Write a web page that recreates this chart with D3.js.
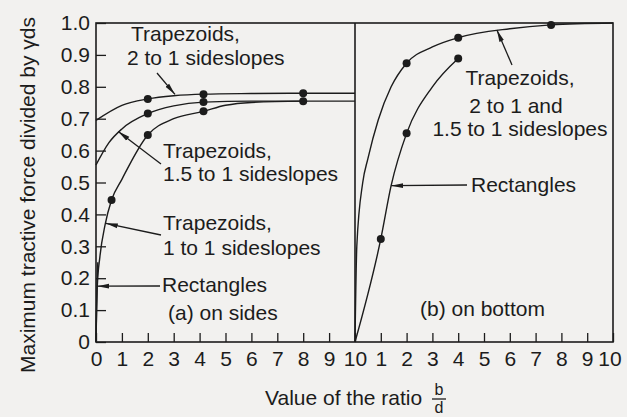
<!DOCTYPE html>
<html>
<head>
<meta charset="utf-8">
<script src="https://cdn.jsdelivr.net/npm/d3@7"></script>
<style>
  html, body { margin: 0; padding: 0; background: #f2f1ef; }
  svg { display: block; font-family: "Liberation Sans", Arial, Helvetica, sans-serif; }
</style>
</head>
<body>
<svg id="chart" width="627" height="417"></svg>
<script>
// ---- Axis ticks ----
const yTickValues = [0, 0.1, 0.2, 0.3, 0.4, 0.5, 0.6, 0.7, 0.8, 0.9, 1.0];
const yTickLabels = ["0", "0.1", "0.2", "0.3", "0.4", "0.5", "0.6", "0.7", "0.8", "0.9", "1.0"];
const xTicksSides = [0, 1, 2, 3, 4, 5, 6, 7, 8, 9, 10];
const xTicksBottom = [1, 2, 3, 4, 5, 6, 7, 8, 9, 10];

// ---- (a) on sides: curves [b/d, tau/(gamma d s)] and measured points ----
const sides2to1Curve = [[0, 0.695], [1, 0.742], [2, 0.762], [3, 0.772], [4.15, 0.777], [6, 0.779], [8, 0.78], [10, 0.78]];
const sides2to1Points = [[2, 0.762], [4.15, 0.777], [8, 0.78]];
const sides15to1Curve = [[0, 0.555], [0.5, 0.625], [1, 0.668], [2, 0.716], [3, 0.74], [4.15, 0.752], [6, 0.755], [8, 0.755], [10, 0.755]];
const sides15to1Points = [[2, 0.716], [4.15, 0.752], [8, 0.755]];
const sides1to1Curve = [[0, 0], [0.05, 0.175], [0.15, 0.267], [0.35, 0.367], [0.6, 0.445], [1, 0.51], [2, 0.649], [3, 0.7], [4.15, 0.723], [5, 0.742], [6, 0.751], [8, 0.755]];
const sides1to1Points = [[0.6, 0.445], [2, 0.649], [4.15, 0.723]];
const sidesRectCurve = [[0, 0], [0.02, 0.1], [0.045, 0.19], [0.07, 0.25]];

// ---- (b) on bottom ----
const bottomTrapCurve = [[0, 0], [0.07, 0.3], [0.3, 0.5], [0.5, 0.575], [0.9, 0.696], [1.4, 0.8], [2, 0.874], [3, 0.925], [4, 0.954], [6, 0.982], [7.6, 0.994], [10, 1.0]];
const bottomTrapPoints = [[2, 0.874], [4, 0.954], [7.6, 0.994]];
const bottomRectCurve = [[0, 0], [1, 0.323], [1.4, 0.49], [2, 0.654], [3, 0.8], [4, 0.889]];
const bottomRectPoints = [[1, 0.323], [2, 0.654], [4, 0.889]];

const ink = "#1c1c1c";
const svg = d3.select("#chart");

const y = d3.scaleLinear().domain([0, 1]).range([342, 23]);
const xA = d3.scaleLinear().domain([0, 10]).range([96, 355]);
const xB = d3.scaleLinear().domain([0, 10]).range([355, 613]);

// arrowhead
svg.append("defs").append("marker")
  .attr("id", "head").attr("viewBox", "0 0 12 6")
  .attr("refX", 12).attr("refY", 3)
  .attr("markerWidth", 12).attr("markerHeight", 6)
  .attr("markerUnits", "userSpaceOnUse")
  .attr("orient", "auto")
  .append("path").attr("d", "M0,0.6 L12,3 L0,5.4 Z").attr("fill", ink);

// frame
const frame = svg.append("g").attr("fill", "none").attr("stroke", ink).attr("stroke-width", 1.6);
frame.append("rect").attr("x", xA(0)).attr("y", y(1)).attr("width", xB(10) - xA(0)).attr("height", y(0) - y(1));
frame.append("line").attr("x1", xA(10)).attr("x2", xA(10)).attr("y1", y(0)).attr("y2", y(1));

function styleAxis(g) {
  g.select(".domain").remove();
  g.selectAll(".tick line").attr("stroke", ink).attr("stroke-width", 1.3);
  g.selectAll(".tick text").attr("fill", ink).attr("font-size", 21).attr("font-family", null);
}

// y axis, ticks pointing inward
svg.append("g").attr("transform", `translate(${xA(0)},0)`)
  .call(d3.axisLeft(y).tickValues(yTickValues).tickSize(-10).tickPadding(6)
    .tickFormat((d, i) => yTickLabels[i]))
  .call(styleAxis);

// x axes for both panels
svg.append("g").attr("transform", `translate(0,${y(0)})`)
  .call(d3.axisBottom(xA).tickValues(xTicksSides).tickSize(-9).tickPadding(9).tickFormat(d3.format("d")))
  .call(styleAxis);
svg.append("g").attr("transform", `translate(0,${y(0)})`)
  .call(d3.axisBottom(xB).tickValues(xTicksBottom).tickSize(-9).tickPadding(9).tickFormat(d3.format("d")))
  .call(g => g.selectAll(".tick").filter(d => d === 10).select("text").remove())
  .call(styleAxis);
// right-hand 10 label
svg.append("text").attr("x", xB(10) - 3).attr("y", y(0) + 24).attr("text-anchor", "middle")
  .attr("font-size", 21).attr("fill", ink).text("10");

// curves
const curveGroup = svg.append("g").attr("fill", "none").attr("stroke", ink).attr("stroke-width", 1.4);
function drawCurve(data, xs) {
  const line = d3.line().x(d => xs(d[0])).y(d => y(d[1])).curve(d3.curveMonotoneX);
  curveGroup.append("path").attr("d", line(data));
}
drawCurve(sides2to1Curve, xA);
drawCurve(sides15to1Curve, xA);
drawCurve(sides1to1Curve, xA);
drawCurve(sidesRectCurve, xA);
drawCurve(bottomTrapCurve, xB);
drawCurve(bottomRectCurve, xB);

// measured points
const dotGroup = svg.append("g").attr("fill", ink);
function drawDots(data, xs) {
  dotGroup.selectAll(null).data(data).enter().append("circle")
    .attr("cx", d => xs(d[0])).attr("cy", d => y(d[1])).attr("r", 4);
}
drawDots(sides2to1Points, xA);
drawDots(sides15to1Points, xA);
drawDots(sides1to1Points, xA);
drawDots(bottomTrapPoints, xB);
drawDots(bottomRectPoints, xB);

// annotation arrows: tail in pixels, head on the curve
const arrows = svg.append("g").attr("stroke", ink).attr("stroke-width", 1.3).attr("fill", "none");
function arrow(x0, y0, xs, dx, dy) {
  arrows.append("line").attr("x1", x0).attr("y1", y0)
    .attr("x2", xs(dx)).attr("y2", y(dy)).attr("marker-end", "url(#head)");
}
arrow(157, 73, xA, 3.05, 0.776);
arrow(161, 164, xA, 0.86, 0.66);
arrow(161, 235, xA, 0.38, 0.372);
arrow(160, 286, xA, 0.05, 0.175);
arrow(512, 65, xB, 5.5, 0.978);
arrow(467, 185, xB, 1.4, 0.49);

// labels
const labels = svg.append("g").attr("font-size", 21).attr("fill", ink);
function label(txt, x, yy, anchor) {
  labels.append("text").attr("x", x).attr("y", yy).attr("text-anchor", anchor || "start").text(txt);
}
label("Trapezoids,", 131, 41);
label("2 to 1 sideslopes", 127, 65);
label("Trapezoids,", 163, 158);
label("1.5 to 1 sideslopes", 163, 181);
label("Trapezoids,", 163, 230);
label("1 to 1 sideslopes", 163, 255);
label("Rectangles", 162, 292);
label("(a) on sides", 168, 320);
label("Trapezoids,", 520, 85, "middle");
label("2 to 1 and", 516, 113, "middle");
label("1.5 to 1 sideslopes", 520, 136, "middle");
label("Rectangles", 471, 192);
label("(b) on bottom", 420, 316);

// axis titles
svg.append("text").attr("transform", "translate(35,195) rotate(-90)")
  .attr("text-anchor", "middle").attr("font-size", 21).attr("fill", ink)
  .text("Maximum tractive force divided by γds");

svg.append("text").attr("x", 265).attr("y", 405).attr("font-size", 21).attr("fill", ink)
  .text("Value of the ratio");
svg.append("text").attr("x", 439).attr("y", 395).attr("text-anchor", "middle")
  .attr("font-size", 16).attr("fill", ink).text("b");
svg.append("line").attr("x1", 432).attr("x2", 446).attr("y1", 399).attr("y2", 399)
  .attr("stroke", ink).attr("stroke-width", 1.3);
svg.append("text").attr("x", 439).attr("y", 413).attr("text-anchor", "middle")
  .attr("font-size", 16).attr("fill", ink).text("d");
</script>
</body>
</html>
